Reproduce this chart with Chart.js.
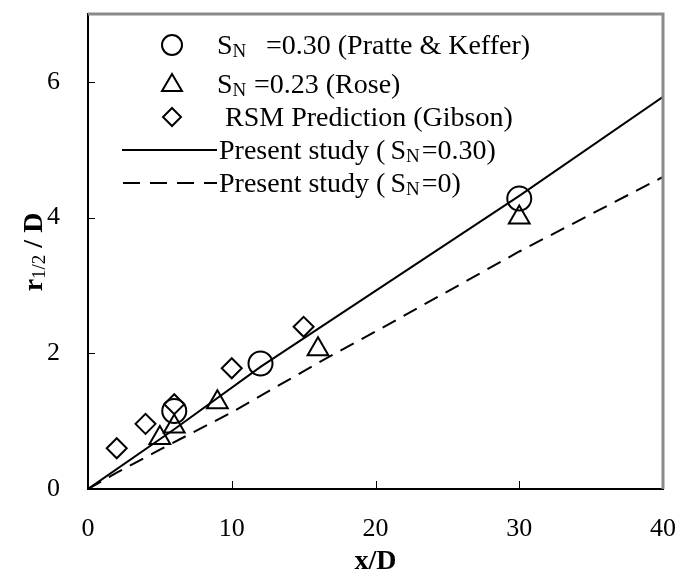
<!DOCTYPE html>
<html>
<head>
<meta charset="utf-8">
<script src="https://cdn.jsdelivr.net/npm/chart.js@4.4.0/dist/chart.umd.min.js"></script>
<style>
  html, body { margin: 0; padding: 0; background: #fff; }
  #wrap { width: 679px; height: 575px; }
</style>
</head>
<body>
<div id="wrap"><canvas id="spreadChart" width="679" height="575"></canvas></div>
<script>
// tick labels
const xTicks = [0, 10, 20, 30, 40];
const yTicks = [0, 2, 4, 6];

// Pratte & Keffer, S_N = 0.30
const pratteX = [6, 12, 30];
const pratteY = [1.15, 1.85, 4.28];

// Rose, S_N = 0.23
const roseX = [5, 6, 9, 16, 30];
const roseY = [0.75, 0.92, 1.28, 2.06, 4.0];

// RSM prediction (Gibson)
const gibsonX = [2, 4, 6, 10, 15];
const gibsonY = [0.6, 0.96, 1.25, 1.78, 2.39];

// present study, S_N = 0.30
const studyX = [0, 6, 12, 20, 30, 40];
const studyY = [0, 0.88, 1.8, 2.92, 4.32, 5.78];

// present study, S_N = 0
const studyZeroX = [0, 2, 5, 10, 16.6, 20, 30, 40];
const studyZeroY = [0, 0.24, 0.58, 1.13, 1.93, 2.32, 3.5, 4.6];

const FONT = "'Liberation Serif', 'Times New Roman', serif";

function toPoints(xs, ys) {
    return xs.map((x, i) => ({ x: x, y: ys[i] }));
}

// draws a run of text pieces, some of them as subscripts
function drawRich(ctx, parts, x, y, size) {
    let cx = x;
    parts.forEach(p => {
        const s = p.sub ? Math.round(size * 0.68) : size;
        ctx.font = (p.bold ? 'bold ' : '') + s + 'px ' + FONT;
        if (p.x !== undefined) cx = p.x;
        ctx.fillText(p.t, cx, p.sub ? y + size * 0.1 : y);
        cx += ctx.measureText(p.t).width + (p.gap || 0);
    });
    return cx - x;
}

function marker(ctx, style, x, y) {
    ctx.save();
    ctx.strokeStyle = '#000';
    ctx.lineWidth = 2;
    ctx.beginPath();
    if (style === 'circle') {
        ctx.arc(x, y, 10, 0, Math.PI * 2);
    } else if (style === 'triangle') {
        ctx.moveTo(x, y - 10);
        ctx.lineTo(x + 10, y + 7);
        ctx.lineTo(x - 10, y + 7);
        ctx.closePath();
    } else {
        ctx.moveTo(x, y - 9);
        ctx.lineTo(x + 9, y);
        ctx.lineTo(x, y + 9);
        ctx.lineTo(x - 9, y);
        ctx.closePath();
    }
    ctx.stroke();
    ctx.restore();
}

const decorations = {
    id: 'decorations',
    afterDraw(chart) {
        const ctx = chart.ctx;
        const area = chart.chartArea;
        const xs = chart.scales.x;
        const ys = chart.scales.y;

        ctx.save();
        // top and right frame, grey
        ctx.strokeStyle = '#8a8a8a';
        ctx.lineWidth = 3;
        ctx.beginPath();
        ctx.moveTo(area.left, area.top);
        ctx.lineTo(area.right, area.top);
        ctx.lineTo(area.right, area.bottom);
        ctx.stroke();

        // inward tick marks
        ctx.strokeStyle = '#000';
        ctx.lineWidth = 1;
        ctx.beginPath();
        xTicks.slice(1, -1).forEach(v => {
            const px = Math.round(xs.getPixelForValue(v)) + 0.5;
            ctx.moveTo(px, area.bottom);
            ctx.lineTo(px, area.bottom - 8);
        });
        yTicks.slice(1).forEach(v => {
            const py = Math.round(ys.getPixelForValue(v)) + 0.5;
            ctx.moveTo(area.left, py);
            ctx.lineTo(area.left + 7, py);
        });
        ctx.stroke();

        // legend
        ctx.fillStyle = '#000';
        ctx.textBaseline = 'alphabetic';
        ctx.textAlign = 'left';
        const size = 28;
        const rows = [45, 84, 117, 150, 183];
        const base = 9;
        marker(ctx, 'circle', 172, rows[0]);
        drawRich(ctx, [{ t: 'S' }, { t: 'N', sub: true }, { t: '=0.30 (Pratte & Keffer)', x: 266 }], 217, rows[0] + base, size);
        marker(ctx, 'triangle', 172, rows[1]);
        drawRich(ctx, [{ t: 'S' }, { t: 'N', sub: true }, { t: '=0.23 (Rose)', x: 254 }], 217, rows[1] + base, size);
        marker(ctx, 'diamond', 172, rows[2]);
        drawRich(ctx, [{ t: 'RSM Prediction (Gibson)' }], 225, rows[2] + base, size);

        ctx.lineWidth = 2;
        ctx.beginPath();
        ctx.moveTo(122, rows[3]);
        ctx.lineTo(217, rows[3]);
        ctx.stroke();
        drawRich(ctx, [{ t: 'Present study (', gap: 5 }, { t: 'S' }, { t: 'N', sub: true, gap: 2 }, { t: '=0.30)' }], 219, rows[3] + base, size);

        ctx.setLineDash([17, 10]);
        ctx.beginPath();
        ctx.moveTo(123, rows[4]);
        ctx.lineTo(217, rows[4]);
        ctx.stroke();
        ctx.setLineDash([]);
        drawRich(ctx, [{ t: 'Present study (', gap: 5 }, { t: 'S' }, { t: 'N', sub: true, gap: 2 }, { t: '=0)' }], 219, rows[4] + base, size);

        // axis titles
        ctx.textAlign = 'center';
        ctx.textBaseline = 'middle';
        ctx.font = 'bold 28px ' + FONT;
        ctx.fillText('x/D', (area.left + area.right) / 2, 562);

        const yParts = [{ t: 'r', bold: true }, { t: '1/2', sub: true }, { t: ' / D', bold: true }];
        ctx.textAlign = 'left';
        ctx.textBaseline = 'alphabetic';
        ctx.save();
        ctx.translate(42, 252);
        ctx.rotate(-Math.PI / 2);
        // measure to centre it
        let w = 0;
        yParts.forEach(p => {
            ctx.font = (p.bold ? 'bold ' : '') + (p.sub ? 19 : 28) + 'px ' + FONT;
            w += ctx.measureText(p.t).width;
        });
        drawRich(ctx, yParts, -w / 2, 0, 28);
        ctx.restore();
        ctx.restore();
    }
};

const ctx = document.getElementById('spreadChart').getContext('2d');

new Chart(ctx, {
    type: 'scatter',
    data: {
        datasets: [
            {
                label: 'Present study (SN=0.30)',
                data: toPoints(studyX, studyY),
                showLine: true,
                borderColor: '#000',
                borderWidth: 2,
                pointRadius: 0,
                fill: false,
            },
            {
                label: 'Present study (SN=0)',
                data: toPoints(studyZeroX, studyZeroY),
                showLine: true,
                borderColor: '#000',
                borderWidth: 2,
                borderDash: [15, 9],
                pointRadius: 0,
                fill: false,
            },
            {
                label: 'SN =0.30 (Pratte & Keffer)',
                data: toPoints(pratteX, pratteY),
                pointStyle: 'circle',
                pointRadius: 12,
                borderColor: '#000',
                borderWidth: 2,
                backgroundColor: 'rgba(0,0,0,0)',
            },
            {
                label: 'SN =0.23 (Rose)',
                data: toPoints(roseX, roseY),
                pointStyle: 'triangle',
                pointRadius: 12,
                borderColor: '#000',
                borderWidth: 2,
                backgroundColor: 'rgba(0,0,0,0)',
            },
            {
                label: 'RSM Prediction (Gibson)',
                data: toPoints(gibsonX, gibsonY),
                pointStyle: 'rectRot',
                pointRadius: 10,
                borderColor: '#000',
                borderWidth: 2,
                backgroundColor: 'rgba(0,0,0,0)',
            },
        ],
    },
    options: {
        responsive: false,
        animation: false,
        devicePixelRatio: 1,
        layout: {
            padding: { left: 0, top: 9, right: 16, bottom: 0 }
        },
        plugins: {
            legend: { display: false },
            tooltip: { enabled: false },
        },
        scales: {
            x: {
                type: 'linear',
                min: 0,
                max: 40,
                afterBuildTicks: s => { s.ticks = xTicks.map(v => ({ value: v })); },
                afterFit: s => {
                    s.height = 86;
                    s.paddingLeft = 0; s.paddingRight = 0;
                    s.paddingTop = 0; s.paddingBottom = 0;
                },
                grid: { display: false },
                border: { display: true, color: '#000', width: 2 },
                ticks: {
                    color: '#000',
                    padding: 17,
                    maxRotation: 0,
                    font: { family: FONT, size: 26 }
                }
            },
            y: {
                type: 'linear',
                min: 0,
                max: 7,
                afterBuildTicks: s => { s.ticks = yTicks.map(v => ({ value: v })); },
                afterFit: s => {
                    s.width = 88;
                    s.paddingLeft = 0; s.paddingRight = 0;
                    s.paddingTop = 0; s.paddingBottom = 0;
                },
                grid: { display: false },
                border: { display: true, color: '#000', width: 2 },
                ticks: {
                    color: '#000',
                    padding: 20,
                    font: { family: FONT, size: 26 }
                }
            }
        }
    },
    plugins: [decorations]
});
</script>
</body>
</html>
